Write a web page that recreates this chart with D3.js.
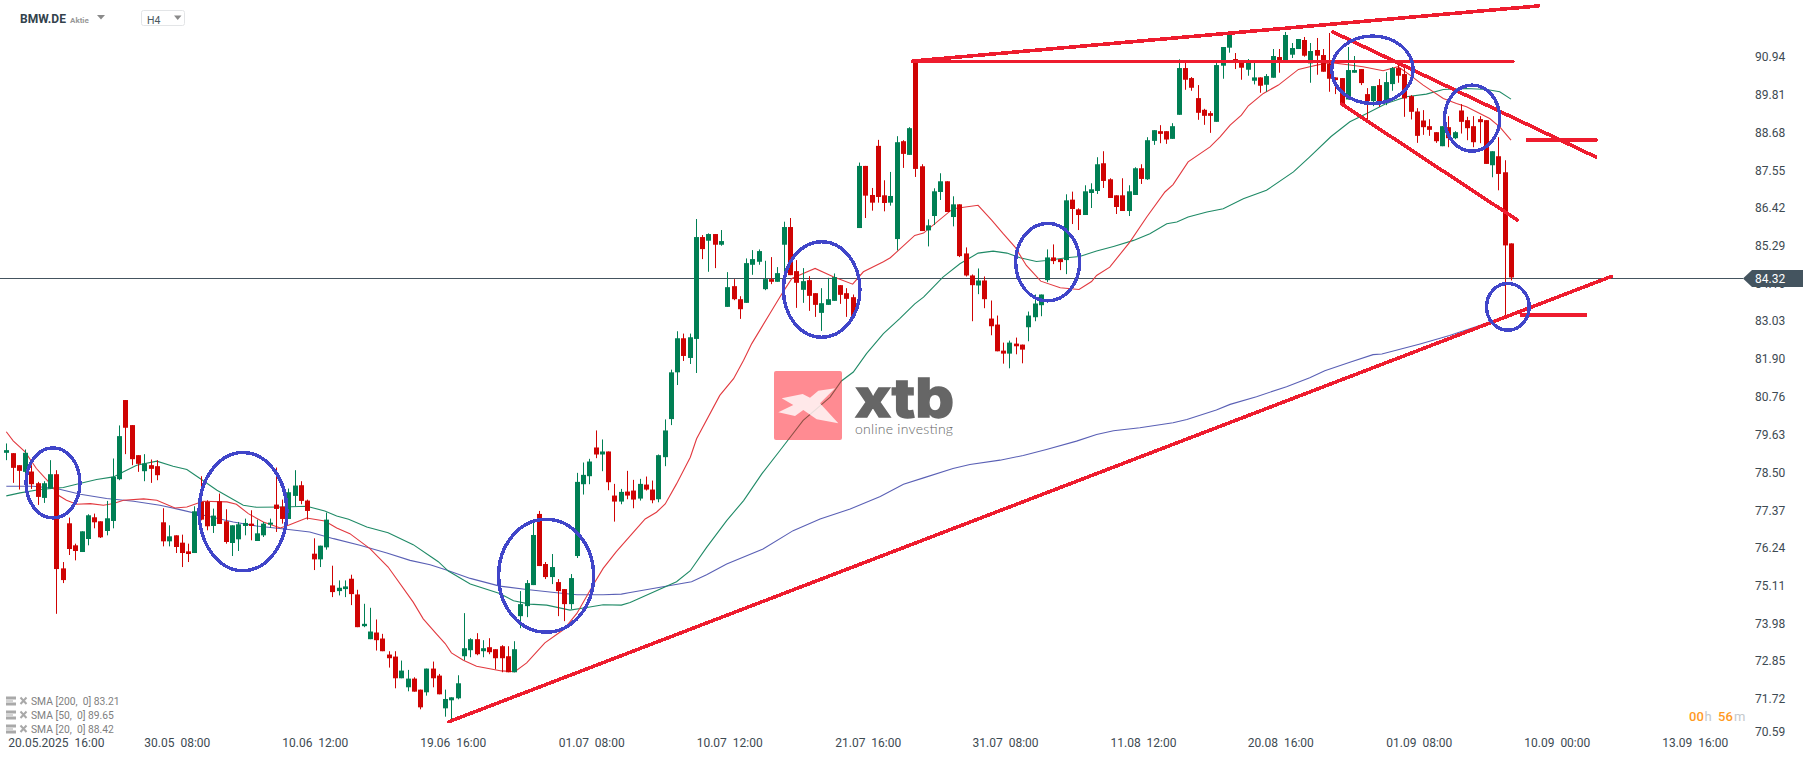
<!DOCTYPE html>
<html><head><meta charset="utf-8">
<script src="https://cdnjs.cloudflare.com/ajax/libs/d3/7.9.0/d3.min.js"></script>
<style>html,body{margin:0;padding:0;background:#fff}svg{display:block}text{font-family:Roboto,sans-serif}</style>
</head><body><svg id="c" width="1815" height="761"></svg>
<script>
// open, high, low, close per H4 bar
const ohlc=[
[79.08,79.36,78.86,79.16],[79.07,79.07,78.18,78.63],[78.71,78.71,77.98,78.54],[78.51,79.18,78.44,79.08],[78.52,78.71,78.00,78.14],[78.17,78.21,77.52,77.76],[77.73,78.23,77.58,78.17],[78.01,78.86,78.01,78.44],[78.44,78.56,74.26,75.60],[75.62,75.81,75.18,75.27],
[76.97,77.14,76.02,76.20],[76.31,76.36,75.86,76.14],[76.11,76.73,76.11,76.73],[76.50,77.24,76.31,77.21],[77.15,77.26,76.82,77.00],[77.03,77.03,76.53,76.55],[76.74,77.64,76.61,77.12],[77.04,78.91,76.82,78.36],[78.29,79.90,78.26,79.58],[80.66,80.66,79.04,79.83],
[79.91,79.91,78.71,78.89],[79.01,79.01,78.51,78.75],[78.53,79.04,78.23,78.76],[78.71,78.88,78.18,78.60],[78.68,78.86,78.26,78.41],[77.00,77.42,76.28,76.43],[76.43,76.91,76.28,76.58],[76.61,76.61,76.08,76.26],[76.39,76.63,75.66,76.08],[76.13,76.36,75.81,76.05],
[76.08,77.48,76.08,77.33],[77.61,78.38,77.06,77.08],[77.61,77.66,76.76,76.88],[76.89,77.41,76.68,77.20],[77.63,77.86,76.95,76.95],[77.03,77.39,76.36,76.41],[76.38,76.91,75.99,76.91],[76.49,77.01,76.14,76.94],[76.89,77.11,76.61,76.98],[76.96,77.36,76.46,76.89],
[76.44,77.08,76.44,76.67],[76.61,77.01,76.56,76.96],[76.93,77.11,76.83,76.99],[77.53,78.64,76.71,77.40],[77.47,77.68,76.96,77.10],[77.10,78.01,77.10,77.90],[77.79,78.56,77.48,78.10],[78.11,78.23,77.54,77.64],[77.65,77.68,77.08,77.34],[76.06,76.52,75.57,75.89],
[75.89,76.30,75.66,76.30],[76.25,77.29,76.18,77.08],[75.11,75.70,74.76,74.91],[74.94,75.26,74.81,75.04],[75.00,75.26,74.76,75.08],[75.31,75.43,74.52,74.85],[74.84,74.98,73.86,73.86],[73.89,74.56,73.86,73.96],[73.50,74.44,73.50,73.73],[73.70,74.09,73.16,73.47],
[73.52,73.66,73.14,73.14],[73.04,73.14,72.65,72.93],[72.98,73.14,72.03,72.33],[72.33,72.86,72.33,72.56],[72.06,72.58,71.94,72.32],[72.32,72.36,71.93,71.93],[71.99,71.99,71.40,71.46],[71.91,72.62,71.81,72.62],[72.62,72.83,72.06,72.33],[72.41,72.46,71.85,71.85],
[71.43,71.99,71.18,71.71],[71.67,71.76,71.07,71.76],[71.73,72.42,71.70,72.18],[72.99,74.28,72.87,73.23],[73.17,73.53,72.96,73.50],[73.50,73.68,73.02,73.05],[73.14,73.47,72.96,73.23],[73.26,73.53,73.05,73.11],[73.20,73.20,72.60,72.93],[73.29,73.32,72.51,72.93],
[72.99,73.29,72.51,72.51],[72.51,73.44,72.51,73.20],[74.19,74.94,73.83,74.55],[74.49,75.27,74.16,75.18],[75.12,77.02,75.12,76.62],[77.25,77.34,75.69,75.69],[75.75,75.81,75.30,75.36],[75.36,76.05,75.15,75.66],[75.21,75.30,74.19,74.94],[75.00,75.00,74.04,74.55],
[74.55,75.45,74.40,75.33],[75.99,78.48,75.93,78.21],[78.14,78.79,77.83,78.42],[78.38,78.90,78.14,78.82],[79.24,79.75,78.92,79.03],[79.03,79.48,78.53,79.12],[79.12,79.12,77.96,78.20],[77.80,78.15,77.02,77.62],[77.62,78.00,77.54,77.91],[77.92,78.54,77.69,77.80],
[77.95,78.27,77.42,77.68],[77.71,78.30,77.65,78.15],[78.13,78.37,77.95,77.98],[77.98,78.25,77.57,77.66],[77.69,79.03,77.60,79.01],[78.95,80.08,78.68,79.75],[80.09,81.57,79.91,81.49],[81.49,82.72,81.11,82.51],[82.51,82.65,81.83,81.98],[81.92,82.65,81.74,82.54],
[82.49,86.08,81.47,85.54],[85.54,85.60,84.88,85.18],[85.43,85.65,84.50,85.63],[85.63,85.63,84.61,85.31],[85.31,85.75,85.28,85.42],[83.45,84.49,83.45,84.04],[84.07,84.28,83.65,83.68],[83.68,83.77,83.09,83.38],[83.57,84.90,83.57,84.76],[84.71,85.15,84.41,84.88],
[84.80,85.17,84.71,85.12],[83.98,84.83,83.95,84.28],[84.28,84.94,84.13,84.20],[84.20,84.64,84.20,84.46],[85.31,86.00,84.18,85.84],[85.84,86.11,84.40,84.40],[84.52,84.85,83.42,84.17],[83.96,84.61,83.57,84.22],[84.25,84.37,83.33,83.78],[83.86,83.86,83.15,83.51],
[83.27,84.01,82.73,83.56],[83.51,84.32,83.51,83.68],[83.63,84.45,83.63,84.34],[84.10,84.10,83.54,83.81],[83.86,84.01,83.15,83.69],[83.74,83.82,83.15,83.18],[85.81,87.77,85.81,87.67],[87.67,87.67,86.11,86.78],[86.80,87.01,86.33,86.57],[88.27,88.45,86.57,86.74],
[86.79,87.24,86.31,86.56],[86.57,87.49,86.48,86.77],[85.48,88.56,85.14,88.38],[88.41,88.44,87.61,88.03],[88.00,88.83,88.00,88.80],[90.79,90.79,87.34,87.58],[87.66,87.72,85.72,85.72],[85.74,86.07,85.26,85.89],[86.17,87.00,85.90,86.91],[86.89,87.45,86.65,87.21],
[87.21,87.21,86.29,86.29],[86.14,86.76,85.86,86.52],[86.52,86.52,84.94,84.97],[85.05,85.23,84.36,84.39],[84.39,84.42,83.02,84.10],[84.09,84.60,83.83,84.24],[84.24,84.36,83.41,83.68],[83.10,83.64,82.60,82.87],[82.92,83.19,82.12,82.12],[82.14,82.38,81.75,82.05],
[82.05,82.44,81.61,82.38],[82.35,82.53,82.03,82.27],[82.32,82.32,81.76,82.17],[82.84,83.31,82.42,83.19],[83.14,83.82,83.02,83.55],[83.50,83.82,83.17,83.82],[84.25,85.17,84.19,84.93],[84.93,85.32,84.73,84.82],[84.88,84.88,84.55,84.79],[84.85,86.82,84.43,86.64],
[86.66,86.90,85.93,86.38],[86.37,86.40,85.75,86.20],[86.20,87.09,86.20,86.91],[86.86,87.15,86.41,86.97],[86.92,87.93,86.83,87.72],[87.75,88.11,87.01,87.22],[87.27,87.30,86.71,86.71],[86.79,86.79,86.23,86.44],[86.79,87.30,86.32,86.32],[86.32,87.09,86.17,86.91],
[86.80,87.63,86.80,87.60],[87.60,87.72,87.13,87.28],[87.27,88.53,87.25,88.44],[88.42,88.74,88.30,88.74],[88.71,88.89,88.35,88.63],[88.71,88.71,88.33,88.46],[88.48,88.95,88.48,88.86],[89.20,90.86,89.20,90.60],[90.60,90.78,89.95,90.25],[90.30,90.33,89.92,90.01],
[89.70,90.09,89.05,89.26],[89.35,89.38,88.90,89.17],[89.25,89.31,88.66,89.17],[88.99,90.78,88.99,90.69],[90.67,91.23,90.28,91.23],[91.21,91.65,91.06,91.62],[90.87,91.05,90.57,90.84],[90.84,90.84,90.25,90.61],[90.55,90.87,90.37,90.84],[90.22,90.84,90.11,90.32],
[90.32,90.32,89.86,90.07],[90.10,90.42,89.89,90.36],[90.31,91.17,90.31,90.96],[90.93,91.17,90.46,90.79],[90.84,91.68,90.84,91.59],[91.00,91.35,90.90,91.20],[91.17,91.47,91.17,91.47],[91.44,91.53,90.94,90.97],[90.74,91.35,90.16,91.11],[91.14,91.50,90.40,90.97],
[90.99,91.17,90.49,90.49],[90.74,91.65,89.89,90.28],[90.32,90.32,89.82,90.24],[90.30,90.30,89.44,89.49],[89.66,91.23,89.66,90.54],[90.46,90.96,90.46,90.54],[90.57,90.57,90.09,90.15],[89.82,90.00,89.04,89.61],[89.61,90.06,89.46,90.06],[90.09,90.27,89.44,89.60],
[89.61,90.48,89.49,90.18],[90.12,90.63,89.92,90.60],[90.60,90.69,90.16,90.37],[90.42,90.60,89.14,89.69],[89.76,89.79,89.06,89.29],[89.30,89.40,88.36,88.57],[89.03,89.34,88.60,88.83],[88.86,89.07,88.57,88.75],[88.68,88.68,88.36,88.41],[88.26,88.86,88.26,88.86],
[88.83,89.16,88.23,88.50],[88.50,88.71,88.47,88.68],[89.33,89.52,88.64,88.99],[89.04,89.14,88.44,88.80],[88.86,89.16,88.23,88.38],[89.07,89.16,88.35,88.98],[89.04,89.04,87.73,87.73],[87.69,88.11,87.33,88.11],[87.96,88.53,86.94,87.43],[87.48,87.84,83.19,85.29],
[85.35,85.35,84.24,84.33]];

// moving averages as [bar, price]
const sma20=[[0,79.71],[1.1,79.44],[3,79.11],[4.8,78.61],[7,78.16],[8.3,77.81],[9.6,77.66],[11.2,77.54],[13.4,77.56],[15.5,77.51],[17.1,77.56],[18.7,77.66],[21.9,77.70],[24,77.66],[26.9,77.43],[28.8,77.46],[31.4,77.63],[35.2,77.61],[36.7,77.54],[38.6,77.26],[41,77.01],[43.7,76.83],[45,76.91],[47.9,77.13],[50.8,77.04],[52.7,76.83],[54.8,76.66],[58,76.21],[60.9,75.66],[64.9,74.61],[66.5,74.11],[68.6,73.66],[70,73.37],[71,73.09],[72.9,72.87],[75,72.69],[79,72.55],[81.1,72.53],[83,72.79],[85.9,73.39],[88.9,73.79],[91,74.27],[93.6,75.12],[95.2,75.62],[97.3,76.12],[100,76.70],[101.9,77.10],[103.7,77.30],[105.1,77.55],[106.9,78.15],[109.1,78.95],[110.1,79.50],[113.8,80.80],[116,81.30],[117.6,81.85],[118.9,82.35],[121.8,83.25],[123.9,83.90],[125.3,84.30],[127.1,84.45],[129,84.60],[131.9,84.35],[135,84.13],[136.7,84.50],[139.9,84.80],[141,84.92],[144.9,85.59],[146.3,85.66],[151,86.39],[155,86.49],[157.2,86.04],[159,85.64],[160.9,85.24],[162.7,84.69],[165,84.22],[168.1,84.02],[171.1,83.97],[173.1,84.21],[173.9,84.39],[176,84.64],[179.2,85.39],[181.9,86.14],[184.8,86.89],[186.1,87.11],[188.5,87.79],[192,88.24],[193.6,88.54],[195.2,88.89],[197,89.19],[198.1,89.47],[200.5,89.84],[202.9,90.09],[206.1,90.56],[207.9,90.64],[211,90.77],[214.3,90.69],[216.4,90.64],[219.6,90.52],[222,90.64],[223.9,90.39],[226,90.09],[229.2,89.69],[231.3,89.54],[232.9,89.44],[236.6,89.09],[238.2,88.84],[240,88.44]];
const sma50=[[0,77.79],[2.2,77.88],[5.4,77.98],[9.1,78.04],[11.2,78.14],[14.4,78.28],[17.1,78.36],[18.7,78.51],[20.8,78.71],[24,78.83],[26.6,78.68],[28.8,78.58],[30.9,78.31],[33.6,77.96],[37.8,77.51],[39.9,77.45],[44.2,77.46],[47.9,77.48],[50.8,77.34],[52.7,77.19],[54.6,77.09],[57.5,76.86],[60.9,76.69],[64.9,76.33],[67.8,75.96],[68.9,75.82],[70.5,75.54],[74,75.15],[78.7,74.87],[80.9,74.65],[83.5,74.55],[86.2,74.52],[89.9,74.37],[92.6,74.45],[95.2,74.53],[98.1,74.52],[99.5,74.60],[106.9,75.22],[109.1,75.55],[111.7,76.25],[114.9,77.05],[117.6,77.65],[120.5,78.45],[123.4,79.15],[127.1,80.05],[131.4,80.75],[133.2,81.23],[135.1,81.50],[137.2,82.05],[139.9,82.65],[142.5,83.10],[144.9,83.54],[146.3,83.74],[149.4,84.34],[152.1,84.74],[155,85.06],[157.4,85.12],[159.6,85.06],[161.7,84.92],[164.3,84.81],[165.9,84.84],[169.1,84.92],[171.2,84.96],[173.9,85.12],[176.6,85.26],[179.8,85.44],[182.4,85.64],[185.1,85.94],[186.7,85.99],[188.5,86.14],[191.5,86.29],[194.1,86.39],[197.3,86.69],[201,86.94],[205.3,87.49],[207.9,87.94],[211.3,88.55],[214.3,88.99],[217,89.24],[220.1,89.54],[223.3,89.74],[226.5,89.82],[229.2,89.96],[232.9,89.99],[236.1,89.96],[238.2,89.89],[240,89.67]];
const sma200=[[0,78.08],[4.3,78.08],[8,78.01],[11.8,77.84],[16,77.71],[20.3,77.63],[24.5,77.51],[27.7,77.38],[32,77.19],[36.2,77.01],[39.9,76.89],[44.7,76.79],[48.4,76.71],[52.2,76.51],[56.4,76.31],[60.7,76.08],[64.4,75.86],[67.6,75.73],[70.2,75.57],[74,75.32],[78.7,75.09],[83,74.99],[87.8,74.89],[91,74.83],[95.2,74.83],[98.1,74.85],[99.5,74.90],[109.3,75.22],[111.7,75.43],[114.9,75.75],[120.7,76.20],[125.5,76.75],[129.8,77.10],[134.6,77.40],[139.4,77.77],[143.1,78.14],[146.3,78.33],[151,78.61],[153.7,78.73],[158.5,78.86],[162.2,79.00],[165.9,79.18],[170.7,79.43],[173.9,79.63],[176.6,79.74],[180.8,79.83],[186.1,79.98],[188.3,80.08],[193,80.36],[195.2,80.53],[199.4,80.76],[204.2,81.06],[207.9,81.33],[210.3,81.54],[214.3,81.79],[218,82.02],[219.4,82.04],[225.5,82.34],[230.2,82.59],[235,82.89],[239.8,83.22]];

// drawn analysis: lines as [bar1, price1, bar2, price2], ellipses as [bar, price, barRadius, priceRadius]
const trendLines=[[70.6,71.03,256,84.36],[144.6,90.81,244.4,92.46],[144.6,90.80,240.3,90.80],[211.6,91.68,253.5,87.94],[213,89.52,241,86.05]];
const levelLines=[[242.7,88.45,253.5,88.45],[241.7,83.21,251.8,83.21]];
const ellipses=[[7.45,78.18,4.3,1.05],[37.75,77.32,7,1.77],[86.1,75.40,7.58,1.69],[130.05,83.97,6.1,1.43],[166.1,84.79,5.1,1.16],[217.9,90.55,6.5,1.01],[233.8,89.10,4.4,.99],[239.5,83.45,3.4,.70]];

const priceTicks=[90.94,89.81,88.68,87.55,86.42,85.29,84.16,83.03,81.90,80.76,79.63,78.50,77.37,76.24,75.11,73.98,72.85,71.72,70.59];
const timeTickBars=[7.9,27.2,49.2,71.2,93.3,115.3,137.4,159.3,181.3,203.2,225.3,247.3,269.3];
const timeTickLabels=['20.05.2025  16:00','30.05  08:00','10.06  12:00','19.06  16:00','01.07  08:00','10.07  12:00','21.07  16:00','31.07  08:00','11.08  12:00','20.08  16:00','01.09  08:00','10.09  00:00','13.09  16:00'];
const legendLabels=['SMA [200,  0] 83.21','SMA [50,  0] 89.65','SMA [20,  0] 88.42'];
const lastPrice=84.32;

const UP='#007f54',DOWN='#cf0303',DRAW='#ee1c2e',RING='#4045c9',SLATE='#44545f';
const svg=d3.select('#c');
const x=d3.scaleLinear().domain([0,240]).range([6.3,1511]);
const y=d3.scaleLinear().domain([90.94,72.85]).range([56.7,660.9]);

// last-price line
svg.append('line').attr('x1',0).attr('x2',1743).attr('y1',Math.round(y(lastPrice))+.5).attr('y2',Math.round(y(lastPrice))+.5).attr('stroke',SLATE).attr('stroke-width',1);

// moving averages
const ln=d3.line().x(d=>x(d[0])).y(d=>y(d[1]));
[[sma200,'#5a60b5'],[sma50,'#1f8a66'],[sma20,'#e2393f']].forEach(([s,c])=>{
  svg.append('path').attr('d',ln(s)).attr('fill','none').attr('stroke',c).attr('stroke-width',1.1);
});

// candles
const g=svg.append('g');
g.selectAll('line').data(ohlc).join('line')
 .attr('x1',(d,i)=>Math.round(x(i))+.5).attr('x2',(d,i)=>Math.round(x(i))+.5)
 .attr('y1',d=>y(d[1])).attr('y2',d=>y(d[2]))
 .attr('stroke',d=>d[3]>=d[0]?UP:DOWN).attr('stroke-width',1);
g.selectAll('rect').data(ohlc).join('rect')
 .attr('x',(d,i)=>Math.round(x(i))-2).attr('width',5)
 .attr('y',d=>y(Math.max(d[0],d[3])))
 .attr('height',d=>Math.max(1,Math.abs(y(d[0])-y(d[3]))))
 .attr('fill',d=>d[3]>=d[0]?UP:DOWN);

// xtb watermark
const logo=svg.append('g');
logo.append('rect').attr('x',774).attr('y',371).attr('width',68).attr('height',69).attr('rx',2).attr('fill','#ff1826').attr('opacity',.5);
logo.append('polygon').attr('points','781.7,398.3 802.7,394 810,397.7 818.3,390.7 835,388.3 820,403.3 838.3,423.3 816.7,419.3 803.3,410 795,416 778.3,412.3 793.3,405').attr('fill','#fff').attr('opacity',.8);
logo.append('text').attr('x',855).attr('y',416.5).attr('font-size',54).attr('font-weight',800).attr('textLength',99).attr('lengthAdjust','spacingAndGlyphs').attr('fill','#666').attr('stroke','#666').attr('stroke-width',1.4).style('font-family','Inter').text('xtb');
logo.append('text').attr('x',855).attr('y',434).attr('font-size',14).attr('font-weight',300).attr('textLength',98).attr('fill','#666').style('font-family','Lato').text('online investing');

// drawn analysis
const draw=svg.append('g').attr('shape-rendering','crispEdges');
draw.selectAll('line.t').data(trendLines).join('line').attr('class','t')
 .attr('x1',d=>x(d[0])).attr('y1',d=>y(d[1])).attr('x2',d=>x(d[2])).attr('y2',d=>y(d[3]))
 .attr('stroke',DRAW).attr('stroke-width',3.6).attr('stroke-linecap','round');
draw.selectAll('line.l').data(levelLines).join('line').attr('class','l')
 .attr('x1',d=>x(d[0])).attr('y1',d=>y(d[1])).attr('x2',d=>x(d[2])).attr('y2',d=>y(d[3]))
 .attr('stroke',DRAW).attr('stroke-width',4.4).attr('stroke-linecap','round');
draw.selectAll('ellipse').data(ellipses).join('ellipse')
 .attr('cx',d=>x(d[0])).attr('cy',d=>y(d[1]))
 .attr('rx',d=>x(d[2])-x(0))
 .attr('ry',d=>y(90-d[3])-y(90))
 .attr('fill','none').attr('stroke',RING).attr('stroke-width',3.4);

// axes
const yAxis=d3.axisRight(y).tickValues(priceTicks).tickFormat(d3.format('.2f')).tickSize(0).tickPadding(0);
const ya=svg.append('g').attr('transform','translate(1755,0)').call(yAxis);
ya.select('.domain').remove();
ya.selectAll('text').attr('font-size',12).attr('fill','#3d4a52').style('font-family','Roboto').attr('dy','.34em');
// the lowest label sits squeezed against the time axis
ya.selectAll('.tick').filter(d=>d===70.59).attr('transform','translate(0,'+(y(70.59)-4.6)+')');

const xAxis=d3.axisBottom(x).tickValues(timeTickBars).tickFormat((d,i)=>timeTickLabels[i]).tickSize(0).tickPadding(0);
const xa=svg.append('g').attr('transform','translate(0,738)').call(xAxis);
xa.select('.domain').remove();
xa.selectAll('text').attr('font-size',12).attr('fill','#3d4a52').style('font-family','Roboto').style('white-space','pre');

// last-price tag
const ty=Math.round(y(lastPrice))+.5;
svg.append('path').attr('d',`M1743,${ty}L1752,${ty-8.5}H1803V${ty+8.5}H1752Z`).attr('fill',SLATE);
svg.append('text').attr('x',1755).attr('y',ty+4.5).attr('font-size',12).attr('fill','#fff').text(d3.format('.2f')(lastPrice));

// indicator legend
legendLabels.forEach((t,i)=>{
  const ly=701.5+i*14;
  const L=svg.append('g').attr('fill','#a9a9a9');
  L.append('rect').attr('x',6).attr('y',ly-5).attr('width',10).attr('height',3);
  L.append('rect').attr('x',6).attr('y',ly-1).attr('width',7).attr('height',1);
  L.append('rect').attr('x',6).attr('y',ly+1).attr('width',10).attr('height',3);
  svg.append('path').attr('d',`M20.5,${ly-4}L26.5,${ly+2.5}M26.5,${ly-4}L20.5,${ly+2.5}`).attr('stroke','#a9a9a9').attr('stroke-width',2);
  svg.append('text').attr('x',31).attr('y',ly+3.6).attr('font-size',10.3).attr('fill','#808080').style('white-space','pre').text(t);
});

// header
svg.append('text').attr('x',20).attr('y',23).attr('font-size',12).attr('font-weight',700).attr('fill','#33424c').text('BMW.DE');
svg.append('text').attr('x',70).attr('y',22.5).attr('font-size',8).attr('font-weight',700).attr('fill','#999').text('Aktie');
svg.append('path').attr('d','M97,15H105L101,19.5Z').attr('fill','#8a8a8a');
svg.append('rect').attr('x',141.5).attr('y',10.5).attr('width',43).attr('height',15).attr('rx',2).attr('fill','#fff').attr('stroke','#e3e5e7');
svg.append('text').attr('x',147).attr('y',23.5).attr('font-size',10.5).attr('fill','#4a5860').text('H4');
svg.append('path').attr('d','M174,15.5H181.5L177.7,20Z').attr('fill','#8a8a8a');

// countdown
const T=svg.append('text').attr('y',721).attr('font-size',13);
T.append('tspan').attr('x',1689).attr('fill','#ff9a1f').attr('font-weight',500).text('00');
T.append('tspan').attr('x',1704.5).attr('fill','#c4c8cb').text('h');
T.append('tspan').attr('x',1718).attr('fill','#ff9a1f').attr('font-weight',500).text('56');
T.append('tspan').attr('x',1734).attr('fill','#c4c8cb').text('m');
</script></body></html>
